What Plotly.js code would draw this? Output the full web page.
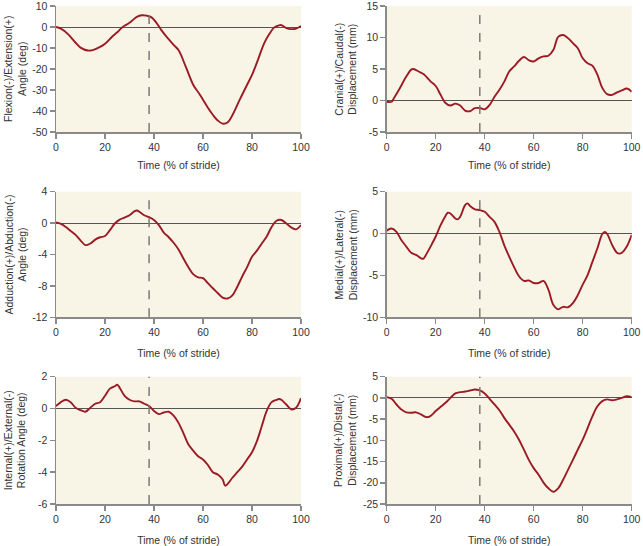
<!DOCTYPE html>
<html>
<head>
<meta charset="utf-8">
<script src="https://cdn.plot.ly/plotly-3.0.1.min.js"></script>
<style>html,body{margin:0;padding:0;background:#fff;}#chart{width:643px;height:546px;}</style>
</head>
<body>
<div id="chart"></div>
<script>
// ---- data (Time in % of stride) ----
var toeOff = 38;

var flexT = [0,2,5,8,10,13,15,18,20,23,25,27,30,33,35,37,39,41,43,45,48,50,53,56,58,60,62,64,66,68,70,72,75,78,80,82,85,87,89,91,92,94,96,98,100];
var flexV = [0,-0.8,-3.5,-7.5,-9.8,-11.2,-11,-9.5,-8,-4.5,-2.5,-0.2,2,4.8,5.6,5.4,4.6,2,-1.5,-4.5,-8.5,-11,-19,-27.5,-31,-34.6,-38.5,-41.8,-44.5,-46,-45.5,-42,-34.6,-27.5,-22.8,-17,-7.7,-3.5,-0.3,0.8,0.9,-0.5,-1,-0.8,0.5];

var cranT = [0,2,3,5,8,10,11,13,15,18,20,22,24,26,28,30,32,34,36,38,40,42,44,46,48,50,52,54,56,58,60,62,64,66,68,70,72,74,76,78,80,82,84,86,88,90,92,94,96,98,100];
var cranV = [-0.2,-0.2,0.4,1.7,3.8,4.9,5,4.6,4.2,3,2.3,0.9,-0.4,-0.8,-0.5,-0.8,-1.6,-1.7,-1.2,-1.2,-1.4,-0.7,0.6,1.7,3,4.6,5.4,6.3,6.9,6.4,6.2,6.7,7,7.1,8,10.1,10.4,9.9,9.1,8.3,6.7,5.9,5.5,4.1,2,1,0.9,1.3,1.6,1.9,1.4];

var adduT = [0,2,4,6,8,10,12,14,16,18,20,22,24,26,28,30,32,33,34,36,38,40,42,44,46,48,50,52,54,56,58,60,62,64,66,68,70,72,74,76,78,80,82,84,86,88,90,92,94,96,98,100];
var adduV = [0.1,-0.1,-0.5,-1,-1.5,-2.2,-2.8,-2.6,-2.1,-1.8,-1.65,-0.9,-0.05,0.45,0.7,1,1.5,1.6,1.45,1,0.75,0.4,-0.25,-1.2,-1.8,-2.5,-3.35,-4.5,-5.6,-6.5,-6.9,-7,-7.65,-8.3,-8.9,-9.5,-9.6,-9.2,-8.1,-6.8,-5.6,-4.3,-3.5,-2.6,-1.7,-0.5,0.3,0.4,-0.05,-0.55,-0.8,-0.25];

var medT = [0,2,4,6,8,10,12,14,15,16,18,20,22,24,25,26,28,29,30,32,33,34,36,38,40,42,44,46,48,50,52,54,56,58,60,62,64,66,68,70,72,74,76,78,80,82,84,86,88,89,90,92,94,95,96,98,100];
var medV = [0.35,0.6,0.2,-0.8,-1.55,-2.3,-2.55,-2.95,-3,-2.55,-1.5,-0.35,1,2.1,2.5,2.4,1.8,1.7,2,3.4,3.6,3.3,2.9,2.8,2.6,2,1.4,0.2,-1.4,-2.75,-4,-5.1,-5.65,-5.6,-5.9,-5.9,-5.65,-6.7,-8.5,-9.05,-8.75,-8.8,-8.3,-7.35,-6.1,-4.95,-3.35,-1.75,-0.05,0.2,-0.05,-1.35,-2.3,-2.4,-2.3,-1.55,-0.15];

var rotT = [0,2,4,6,8,10,12,14,16,18,20,22,24,25,26,28,30,32,34,36,38,40,42,44,46,48,50,52,54,56,58,60,62,64,66,68,69,70,72,74,76,78,80,82,84,86,88,90,91,92,94,96,98,100];
var rotV = [0.15,0.4,0.55,0.4,0.05,-0.1,-0.2,0.05,0.3,0.4,0.8,1.25,1.4,1.5,1.3,0.8,0.55,0.45,0.45,0.3,0.15,-0.15,-0.35,-0.25,-0.2,-0.45,-0.9,-1.55,-2.25,-2.65,-3,-3.2,-3.55,-4,-4.15,-4.45,-4.85,-4.75,-4.35,-4,-3.65,-3.2,-2.75,-2.05,-1.1,-0.15,0.4,0.55,0.6,0.55,0.25,-0.05,0.05,0.65];

var proxT = [0,2,4,6,8,10,12,14,16,17,18,20,22,24,26,28,30,32,34,36,38,40,42,44,46,48,50,52,54,56,58,60,62,64,66,68,70,72,74,76,78,80,82,84,86,88,90,92,94,96,98,100];
var proxV = [0.2,-0.2,-1.55,-2.75,-3.4,-3.5,-3.4,-3.9,-4.5,-4.5,-4.2,-3.1,-2.1,-1.15,0,1.05,1.35,1.5,1.75,2,1.75,1.05,-0.2,-1.55,-2.9,-4.7,-6.3,-7.9,-9.85,-12.2,-14.6,-16.55,-18.1,-19.95,-21.3,-22.1,-21.3,-19.3,-16.95,-14.6,-12.2,-9.85,-7.1,-4.3,-1.95,-0.75,-0.35,-0.55,-0.35,0,0.4,0.2];

var xTitle = 'Time (% of stride)';
var yTitles = [
  'Flexion(-)/Extension(+)<br>Angle (deg)',
  'Cranial(+)/Caudal(-)<br>Displacement (mm)',
  'Adduction(+)/Abduction(-)<br>Angle (deg)',
  'Medial(+)/Lateral(-)<br>Displacement (mm)',
  'Internal(+)/External(-)<br>Rotation Angle (deg)',
  'Proximal(+)/Distal(-)<br>Displacement (mm)'
];
var yTickVals = [
  [-50,-40,-30,-20,-10,0,10],
  [-5,0,5,10,15],
  [-12,-8,-4,0,4],
  [-10,-5,0,5],
  [-6,-4,-2,0,2],
  [-25,-20,-15,-10,-5,0,5]
];
var xTickVals = [0,20,40,60,80,100];

// ---- layout / drawing ----
var series = [[flexT,flexV],[cranT,cranV],[adduT,adduV],[medT,medV],[rotT,rotV],[proxT,proxV]];
var W = 643, H = 546;
var colX = [[56,301],[386.7,631.7]];
var rowY = [[6,132],[191.7,317.3],[376.7,504]];
var xStandoff = [9, 12, 13];
var lineCol = '#9b1b25';
var axCol = '#8a8a8a';
var txtCol = '#333333';
var fontFam = 'Liberation Sans, Arial, sans-serif';

function labels(arr) { return arr.map(function (v) { return String(v); }); }

var traces = [], shapes = [], annotations = [];
var layout = {
  width: W, height: H,
  margin: {l:0, r:0, t:0, b:0},
  paper_bgcolor: '#ffffff',
  plot_bgcolor: '#f8f4e6',
  showlegend: false,
  font: {family: fontFam, size: 10, color: txtCol}
};

for (var i = 0; i < 6; i++) {
  var col = i % 2, row = Math.floor(i / 2);
  var n = i + 1;
  var xa = 'x' + (n === 1 ? '' : n), ya = 'y' + (n === 1 ? '' : n);
  var xKey = 'xaxis' + (n === 1 ? '' : n), yKey = 'yaxis' + (n === 1 ? '' : n);
  var yt = yTickVals[i];
  traces.push({
    x: series[i][0], y: series[i][1], xaxis: xa, yaxis: ya,
    type: 'scatter', mode: 'lines',
    line: {color: lineCol, width: 1.9, shape: 'spline', smoothing: 1},
    hoverinfo: 'skip'
  });
  var xd = [colX[col][0] / W, colX[col][1] / W];
  var yd = [1 - rowY[row][1] / H, 1 - rowY[row][0] / H];
  layout[xKey] = {
    domain: xd, anchor: ya, range: [0, 100],
    tickmode: 'array', tickvals: xTickVals, ticktext: labels(xTickVals),
    ticks: 'outside', ticklen: 5, tickwidth: 1.5, tickcolor: axCol,
    showline: true, linecolor: axCol, linewidth: 1.5,
    showgrid: false, zeroline: false, ticklabeloverflow: 'allow',
    tickfont: {size: 10.5, color: txtCol},
    title: {text: xTitle, font: {size: 10.5, color: txtCol}, standoff: xStandoff[row]},
    automargin: false, fixedrange: true
  };
  layout[yKey] = {
    domain: yd, anchor: xa, range: [yt[0], yt[yt.length - 1]],
    tickmode: 'array', tickvals: yt, ticktext: labels(yt),
    ticks: 'outside', ticklen: 5, tickwidth: 1.5, tickcolor: axCol,
    showline: true, linecolor: axCol, linewidth: 1.5, ticklabeloverflow: 'allow',
    showgrid: false, zeroline: true, zerolinecolor: '#555555', zerolinewidth: 1,
    tickfont: {size: 10.5, color: txtCol},
    automargin: false, fixedrange: true
  };
  shapes.push({
    type: 'line', xref: xa, yref: ya + ' domain',
    x0: toeOff, x1: toeOff, y0: 0, y1: 1,
    line: {color: '#7a7a7a', width: 1.5, dash: 'dash'}
  });
  annotations.push({
    text: yTitles[i], textangle: -90, showarrow: false,
    xref: 'paper', yref: 'paper',
    x: (colX[col][0] - 41) / W, y: 1 - (rowY[row][0] + rowY[row][1]) / 2 / H,
    xanchor: 'center', yanchor: 'middle',
    font: {size: 10.5, color: txtCol}
  });
}
layout.shapes = shapes;
layout.annotations = annotations;

Plotly.newPlot('chart', traces, layout, {displayModeBar: false, staticPlot: true});
</script>
</body>
</html>
